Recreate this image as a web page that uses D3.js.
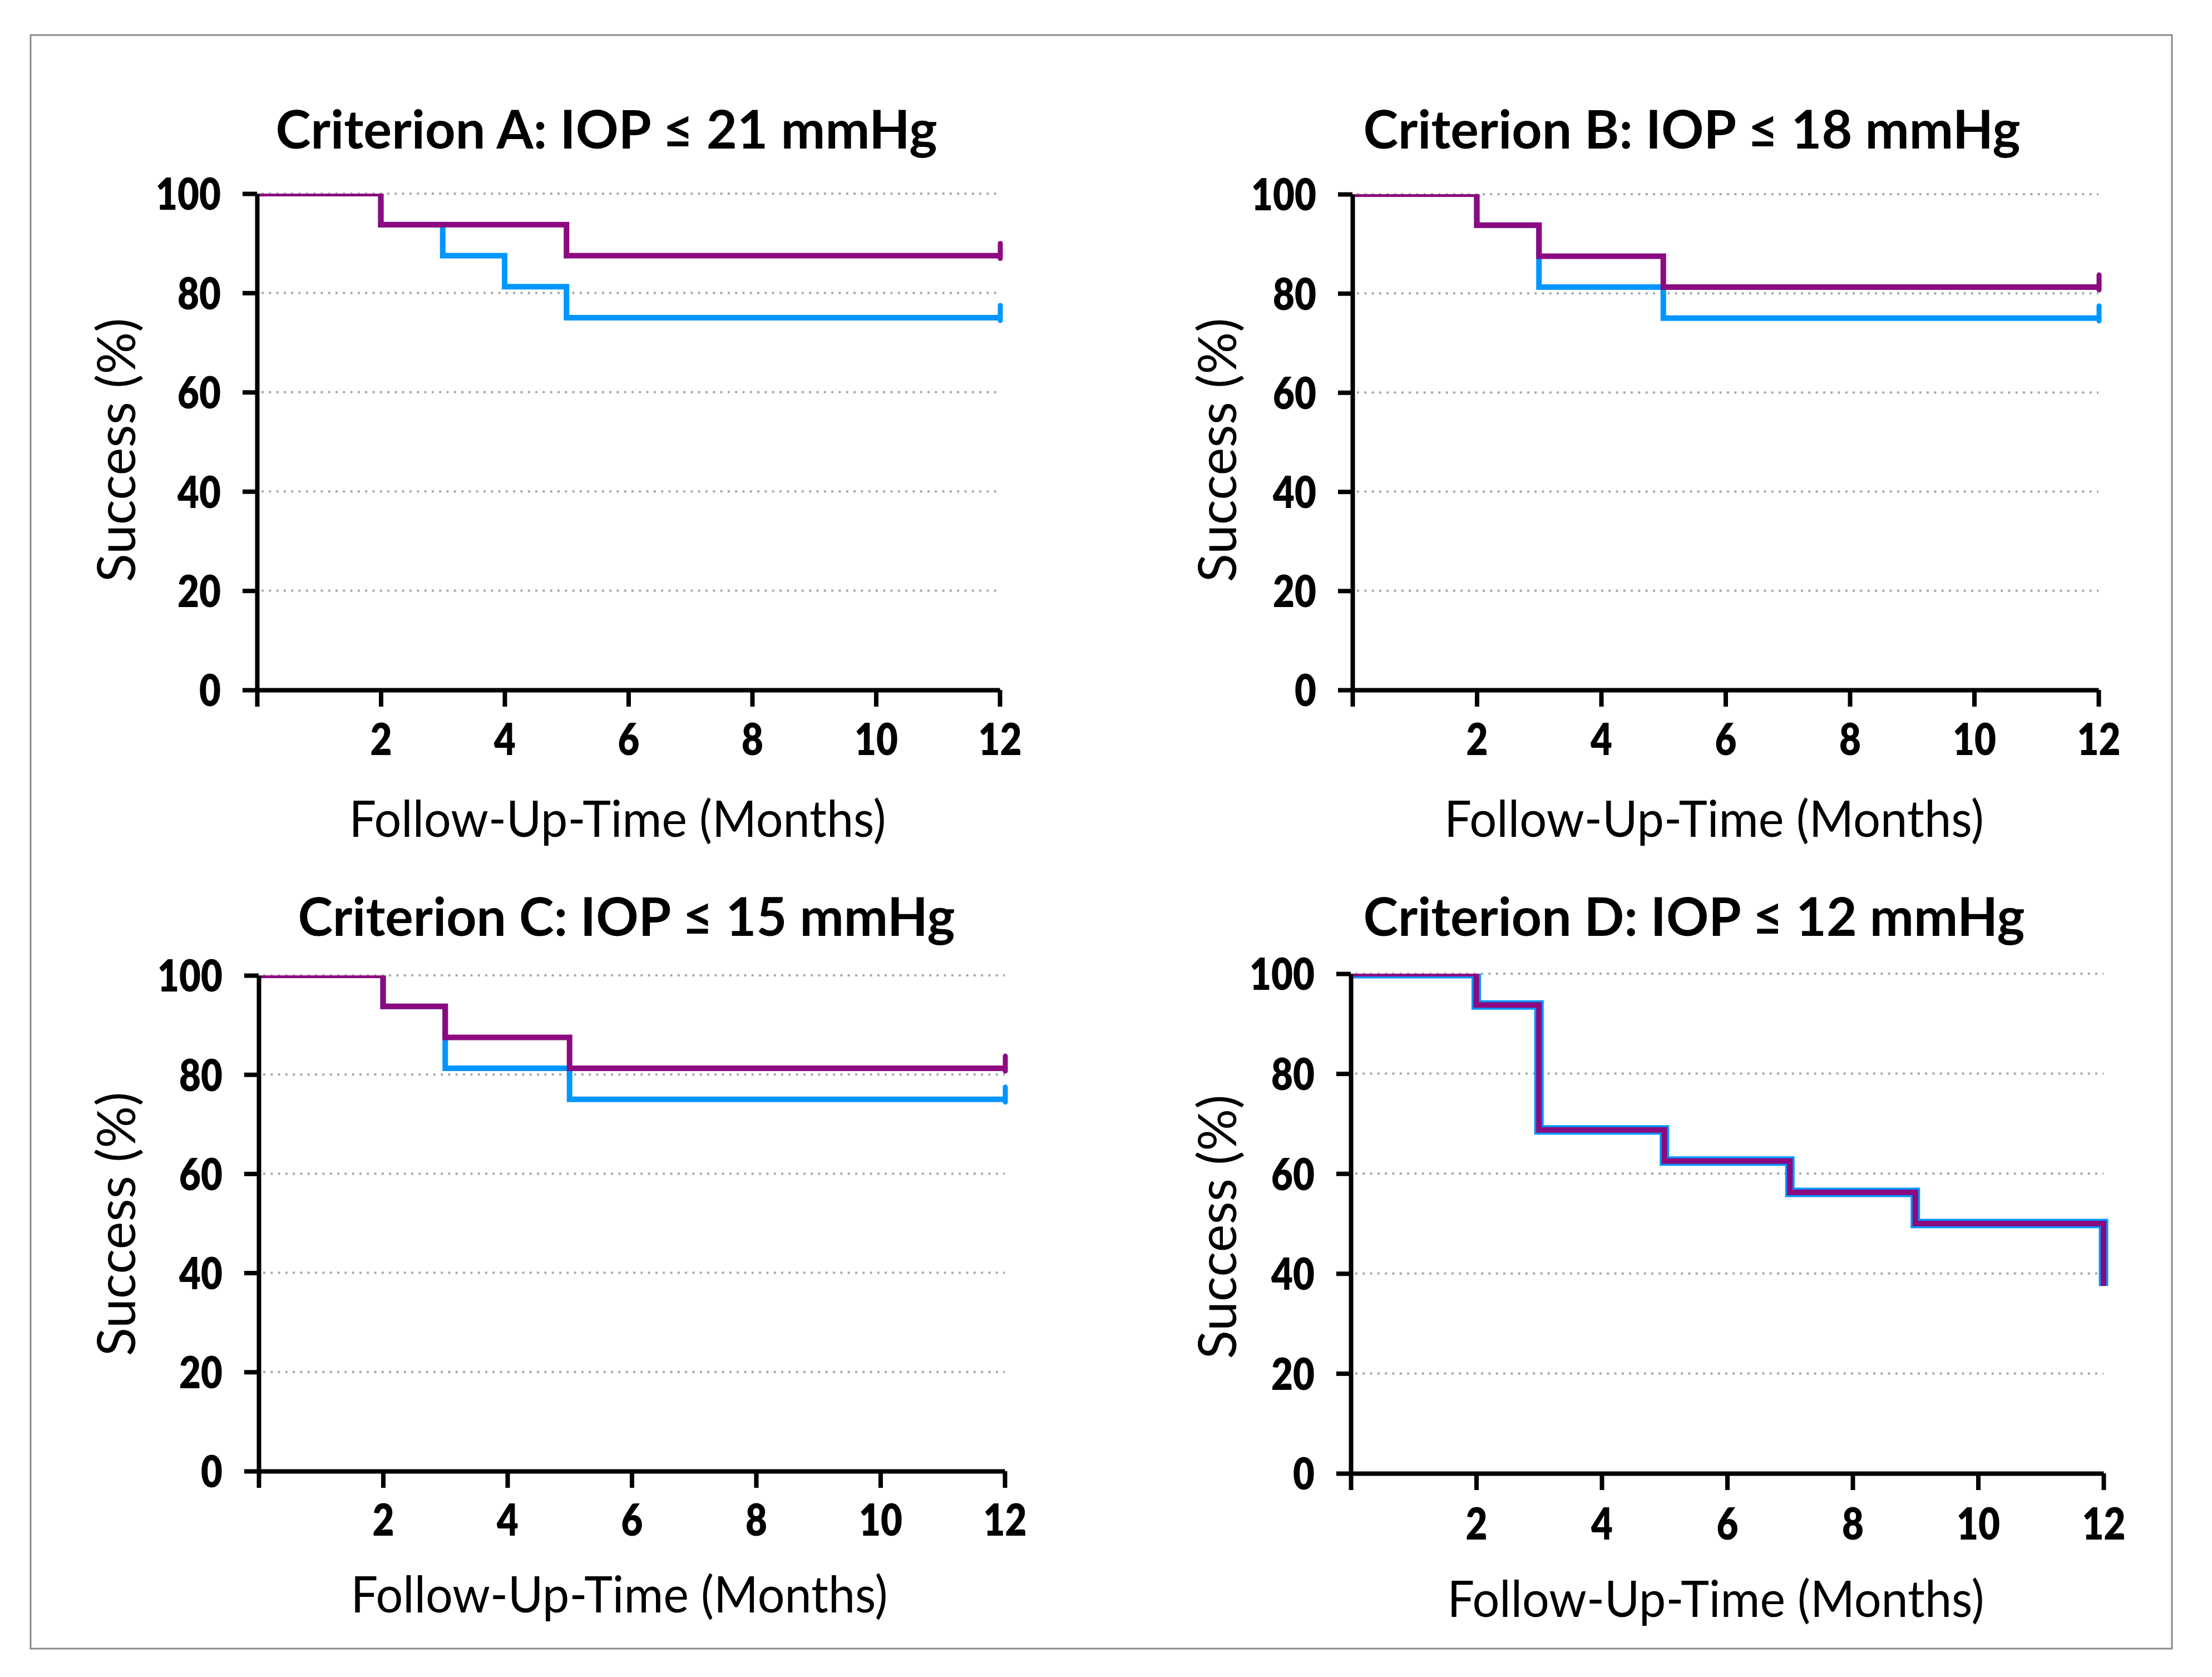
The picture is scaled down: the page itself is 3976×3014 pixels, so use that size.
<!DOCTYPE html>
<html>
<head>
<meta charset="utf-8">
<script src="https://cdn.jsdelivr.net/npm/d3@7"></script>
<style>
  html, body { margin: 0; padding: 0; background: #fff; }
  svg { display: block; }
</style>
</head>
<body>
<svg id="chart" width="3976" height="3014"></svg>
<script>
// ---------- DATA ----------
const titles = [
  "Criterion A: IOP ≤ 21 mmHg",
  "Criterion B: IOP ≤ 18 mmHg",
  "Criterion C: IOP ≤ 15 mmHg",
  "Criterion D: IOP ≤ 12 mmHg"
];
const yAxisTitle = "Success (%)";
const xAxisTitle = "Follow-Up-Time (Months)";
const xTicks = [0, 2, 4, 6, 8, 10, 12];
const yTicks = [0, 20, 40, 60, 80, 100];

// Kaplan-Meier step curves: event times (months) and success (%)
const aBlueTimes   = [0, 2, 3, 4, 5, 12];
const aBlueValues  = [100, 93.75, 87.5, 81.25, 75, 75];
const aPurpleTimes = [0, 2, 5, 12];
const aPurpleValues= [100, 93.75, 87.5, 87.5];

const bBlueTimes   = [0, 2, 3, 5, 12];
const bBlueValues  = [100, 93.75, 81.25, 75, 75];
const bPurpleTimes = [0, 2, 3, 5, 12];
const bPurpleValues= [100, 93.75, 87.5, 81.25, 81.25];

const cBlueTimes   = [0, 2, 3, 5, 12];
const cBlueValues  = [100, 93.75, 81.25, 75, 75];
const cPurpleTimes = [0, 2, 3, 5, 12];
const cPurpleValues= [100, 93.75, 87.5, 81.25, 81.25];

const dBlueTimes   = [0, 2, 3, 5, 7, 9, 12];
const dBlueValues  = [100, 93.75, 68.75, 62.5, 56.25, 50, 37.5];
const dPurpleTimes = [0, 2, 3, 5, 7, 9, 12];
const dPurpleValues= [100, 93.75, 68.75, 62.5, 56.25, 50, 37.5];

// censored at end of follow-up (tick marks) per panel
const censorAtEnd = [true, true, true, false];

const blueColor = "#0096FF";
const purpleColor = "#8C0A80";

// ---------- LAYOUT ----------
const panels = [
  {x0:462,  x1:1797, y0:1240, y1:348,  titleX:1090, titleY:267,  titleW:1189, ylabX:243,  ylabY:809,  xlabX:1110, xlabY:1504, xlabW:965, tickY:1328,
   blue:[aBlueTimes,aBlueValues], purple:[aPurpleTimes,aPurpleValues]},
  {x0:2431, x1:3772, y0:1240, y1:349,  titleX:3041, titleY:267,  titleW:1181, ylabX:2222, ylabY:809,  xlabX:3081, xlabY:1504, xlabW:970, tickY:1328,
   blue:[bBlueTimes,bBlueValues], purple:[bPurpleTimes,bPurpleValues]},
  {x0:465,  x1:1806, y0:2644, y1:1753, titleX:1126, titleY:1682, titleW:1181, ylabX:243,  ylabY:2200, xlabX:1113, xlabY:2898, xlabW:965, tickY:2731,
   blue:[cBlueTimes,cBlueValues], purple:[cPurpleTimes,cPurpleValues]},
  {x0:2428, x1:3781, y0:2648, y1:1750, titleX:3045, titleY:1682, titleW:1189, ylabX:2222, ylabY:2205, xlabX:3084, xlabY:2906, xlabW:965, tickY:2738,
   blue:[dBlueTimes,dBlueValues], purple:[dPurpleTimes,dPurpleValues]}
];

const svg = d3.select("#chart");
svg.append("rect").attr("width",3976).attr("height",3014).attr("fill","#fff");
svg.append("rect").attr("x",55).attr("y",63).attr("width",3849).attr("height",2900)
  .attr("fill","none").attr("stroke","#8a8a8a").attr("stroke-width",3);

const FONT = "Lato, 'Open Sans', sans-serif";

panels.forEach((p, i) => {
  const g = svg.append("g");
  const x = d3.scaleLinear().domain([0, 12]).range([p.x0, p.x1]);
  const y = d3.scaleLinear().domain([0, 100]).range([p.y0, p.y1]);

  // gridlines
  g.append("g").selectAll("line").data(yTicks.filter(d => d > 0)).join("line")
    .attr("x1", x(0) + 8).attr("x2", x(12))
    .attr("y1", d => y(d)).attr("y2", d => y(d))
    .attr("stroke", "#a8a8a8").attr("stroke-width", 4)
    .attr("stroke-dasharray", "4 9.3");

  // clip
  const clipId = "clip" + i;
  svg.append("clipPath").attr("id", clipId).append("rect")
    .attr("x", p.x0).attr("y", p.y1).attr("width", p.x1 - p.x0 + 20).attr("height", p.y0 - p.y1);

  const line = d3.line().x(d => x(d[0])).y(d => y(d[1])).curve(d3.curveStepAfter);
  const lines = g.append("g").attr("clip-path", `url(#${clipId})`);
  const isD = i === 3;

  const series = [
    {data: p.blue, color: blueColor, w: isD ? 17 : 10},
    {data: p.purple, color: purpleColor, w: isD ? 10 : 10}
  ];
  series.forEach(s => {
    const pts = s.data[0].map((t, k) => [t, s.data[1][k]]);
    lines.append("path").datum(pts).attr("d", line)
      .attr("fill", "none").attr("stroke", s.color).attr("stroke-width", s.w)
      .attr("stroke-linejoin", "miter");
    if (censorAtEnd[i]) {
      const last = pts[pts.length - 1];
      lines.append("line")
        .attr("x1", x(last[0]) + 1).attr("x2", x(last[0]) + 1)
        .attr("y1", y(last[1]) + 5).attr("y2", y(last[1]) - 22)
        .attr("stroke", s.color).attr("stroke-width", 9).attr("stroke-linecap", "round");
    }
  });

  // axes
  const xAxis = d3.axisBottom(x).tickValues(xTicks).tickSize(30).tickSizeOuter(0)
    .tickFormat(d => d === 0 ? "" : d);
  const yAxis = d3.axisLeft(y).tickValues(yTicks).tickSize(26).tickSizeOuter(0);

  const gx = g.append("g").attr("transform", `translate(0,${p.y0})`).call(xAxis);
  const gy = g.append("g").attr("transform", `translate(${p.x0},0)`).call(yAxis);
  [gx, gy].forEach(a => {
    a.select(".domain").attr("stroke", "#000").attr("stroke-width", 8);
    a.selectAll(".tick line").attr("stroke", "#000").attr("stroke-width", 8);
    a.selectAll(".tick text").attr("fill", "#000")
      .style("font-family", FONT).style("font-weight", 800).style("font-size", "80px");
  });
  gx.selectAll(".tick text").attr("y", p.tickY - p.y0).attr("dy", "0.36em");
  gy.selectAll(".tick text").attr("x", -65).attr("dy", "0.36em");
  g.selectAll(".tick text").each(function() {
    const w = this.getComputedTextLength();
    if (w > 0) d3.select(this).attr("textLength", w * 0.84).attr("lengthAdjust", "spacingAndGlyphs");
  });

  // title
  g.append("text").attr("x", p.titleX).attr("y", p.titleY)
    .attr("text-anchor", "middle")
    .style("font-family", FONT).style("font-weight", 700).style("font-size", "96px")
    .attr("textLength", p.titleW).attr("lengthAdjust", "spacingAndGlyphs")
    .text(titles[i]);

  // y-axis title
  g.append("text")
    .attr("transform", `translate(${p.ylabX},${p.ylabY}) rotate(-90)`)
    .attr("text-anchor", "middle")
    .style("font-family", FONT).style("font-weight", 400).style("font-size", "95px")
    .attr("textLength", 475).attr("lengthAdjust", "spacingAndGlyphs")
    .text(yAxisTitle);

  // x-axis title
  g.append("text").attr("x", p.xlabX).attr("y", p.xlabY)
    .attr("text-anchor", "middle")
    .style("font-family", FONT).style("font-weight", 400).style("font-size", "92px")
    .attr("textLength", p.xlabW).attr("lengthAdjust", "spacingAndGlyphs")
    .text(xAxisTitle);
});
</script>
</body>
</html>
